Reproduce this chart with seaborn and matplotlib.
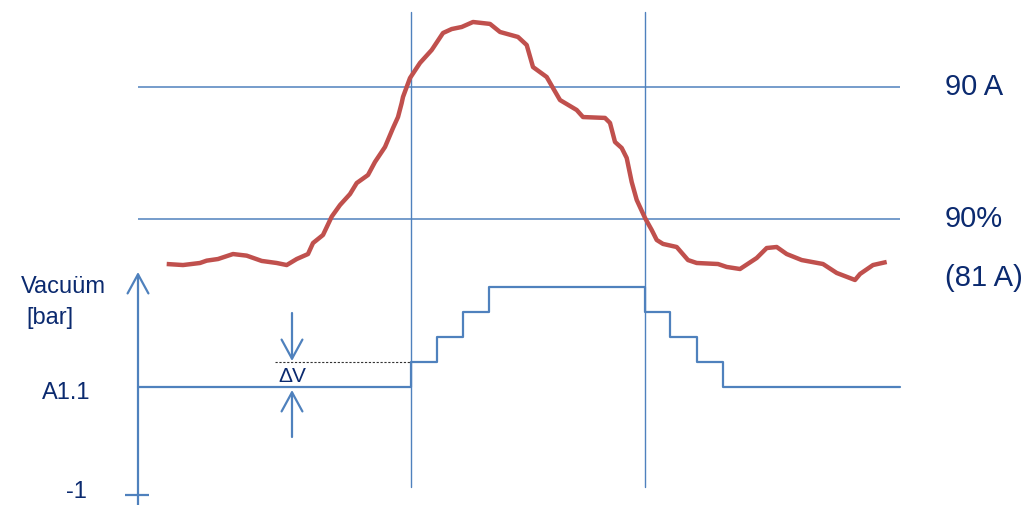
import matplotlib
matplotlib.use('Agg')
import matplotlib.pyplot as plt
import seaborn as sns
import pandas as pd

# current trace (time in px-like units, current in A)
cur_t = [166.7, 183, 200, 206.7, 218, 233, 246.7, 261.7, 276.7, 286.7, 296.7, 308, 313, 323,
         331.7, 340, 350, 356.7, 368, 375, 385, 393, 398, 401.7, 403, 410, 420, 431.7, 443,
         451.7, 461.7, 473, 490, 500, 518, 526.7, 533, 546.7, 553, 560, 576.7, 583, 605, 610,
         615, 621.7, 626.7, 631.7, 636.7, 645, 651.7, 656.7, 663, 676.7, 688, 696.7, 718,
         726.7, 740, 756.7, 766.7, 776.7, 786.7, 801.7, 823, 836.7, 855, 860, 873, 886.7]
cur_a = [77.93, 77.86, 78.0, 78.16, 78.27, 78.61, 78.50, 78.14, 78.0, 77.86, 78.27, 78.61, 79.36, 79.91,
         81.16, 81.95, 82.70, 83.45, 84.0, 84.89, 85.91, 87.20, 87.95, 88.91, 89.32, 90.61, 91.64, 92.52, 93.68,
         93.95, 94.09, 94.43, 94.30, 93.75, 93.41, 92.86, 91.36, 90.68, 89.93, 89.11, 88.43, 87.95, 87.89, 87.55,
         86.25, 85.84, 85.16, 83.52, 82.30, 81.07, 80.25, 79.57, 79.30, 79.09, 78.20, 78.0, 77.93,
         77.73, 77.59, 78.34, 79.02, 79.09, 78.61, 78.20, 77.93, 77.32, 76.84, 77.25, 77.86, 78.07]

# vacuum steps (in units of dV above A1.1)
vac_t = [138, 411, 437, 463, 489, 645, 670, 697, 723, 900]
vac_v = [0, 1, 2, 3, 4, 3, 2, 1, 0, 0]

limit_a = [90, 81]
limit_labels = ['90 A', '90%']
t_markers = [411, 645]

blue = '#4F81BD'
red = '#C0504D'
navy = '#0B2A6F'

sns.set_theme(style='white')
plt.rcParams['font.family'] = ['Liberation Sans', 'DejaVu Sans']

W, H = 1027, 505
fig = plt.figure(figsize=(W / 100, H / 100), dpi=100)
ax = fig.add_axes([0, 0, 1, 1])
ax.set_xlim(0, W)
ax.set_ylim(61.5, 95.93)
ax.axis('off')

ax2 = ax.twinx()
ax2.set_ylim(-4.72, 15.48)
ax2.axis('off')

# threshold lines and time markers
ax.hlines(limit_a, 138, 900, color=blue, lw=1.1)
for t in t_markers:
    ax.axvline(t, ymin=1 - 487 / H, ymax=1 - 12 / H, color=blue, lw=1.0)

sns.lineplot(x=cur_t, y=cur_a, ax=ax, color=red, lw=3.2, solid_capstyle='butt')

vac = pd.DataFrame({'t': vac_t, 'v': vac_v})
sns.lineplot(data=vac, x='t', y='v', ax=ax2, color=blue, lw=1.6, drawstyle='steps-post')

# dashed reference for dV
ax2.hlines(1, 275, 411, color='#333333', lw=0.8, linestyles=(0, (2, 1.5)))

# vacuum axis arrow and -1 tick
arrow = dict(arrowstyle='->, head_width=0.3, head_length=0.55', color=blue, lw=1.6,
             mutation_scale=25, shrinkA=0, shrinkB=0)
ax2.annotate('', xy=(138, 4.6), xytext=(138, -4.72), arrowprops=arrow)
ax2.hlines(-4.32, 125, 149, color=blue, lw=1.6)

# dV arrows
ax2.annotate('', xy=(292, 1.04), xytext=(292, 2.96), arrowprops=arrow)
ax2.annotate('', xy=(292, -0.12), xytext=(292, -2.0), arrowprops=arrow)
ax2.text(292, 0.4, 'ΔV', color=navy, fontsize=15, ha='center', va='center')

# labels
ax2.text(63, 4.0, 'Vacuüm', color=navy, fontsize=17, ha='center', va='center')
ax2.text(50, 2.75, '[bar]', color=navy, fontsize=17, ha='center', va='center')
ax2.text(66, -0.24, 'A1.1', color=navy, fontsize=17, ha='center', va='center')
ax2.text(76, -4.2, '-1', color=navy, fontsize=17, ha='center', va='center')

for a, lab in zip(limit_a, limit_labels):
    ax.text(945, a, lab, color=navy, fontsize=21, ha='left', va='center')
ax.text(945, 81 - 59 * 9 / 132, '(81 A)', color=navy, fontsize=21, ha='left', va='center')

fig.savefig('out.png', dpi=100)
